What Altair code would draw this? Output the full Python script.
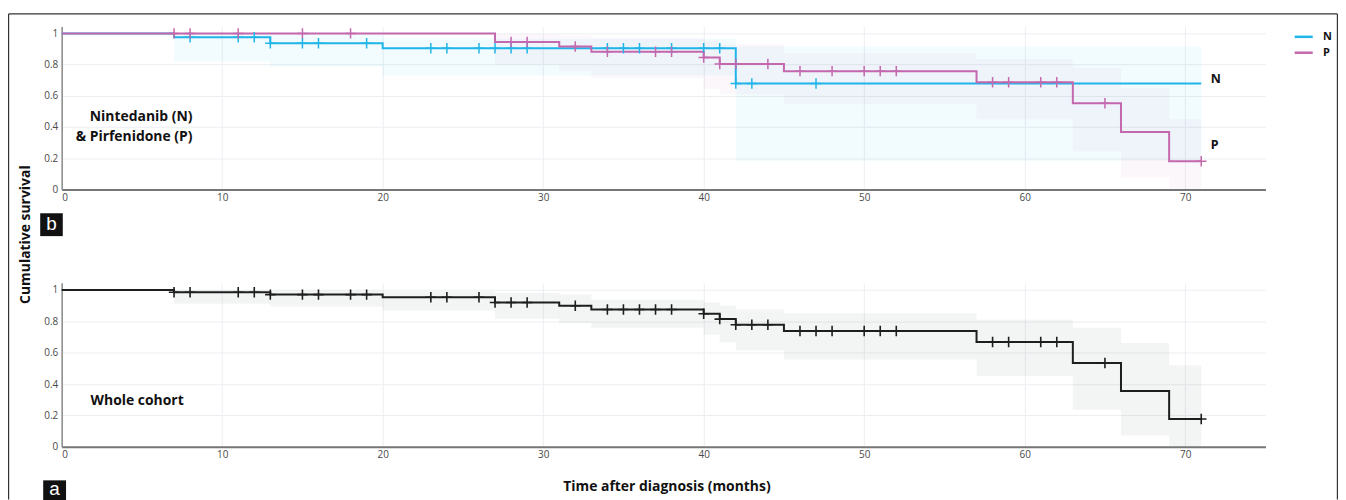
import altair as alt
import pandas as pd

# ---------------- data ----------------
X_TICKS = [0, 10, 20, 30, 40, 50, 60, 70]
Y_TICKS = [0, 0.2, 0.4, 0.6, 0.8, 1]
GROUPS = ["N", "P"]
GROUP_COLORS = ["#20b5e9", "#c468ae"]

# Nintedanib (N)
n_time = [0, 7, 13, 20, 42, 71]
n_surv = [1.0, 0.975, 0.937, 0.905, 0.679, 0.679]
n_censor = [8, 11, 12, 13, 15, 16, 19, 23, 24, 26, 27, 28, 29, 34, 35, 36, 38, 40, 41, 42, 43, 47]
n_ci_start = [7, 13, 20, 42]
n_ci_end = [13, 20, 42, 71]
n_ci_low = [0.82, 0.787, 0.73, 0.184]
n_ci_high = [0.997, 0.99, 0.966, 0.916]

# Pirfenidone (P)
p_time = [0, 27, 31, 33, 40, 41, 45, 57, 63, 66, 69, 71]
p_surv = [1.0, 0.945, 0.916, 0.882, 0.846, 0.804, 0.758, 0.687, 0.552, 0.368, 0.181, 0.181]
p_censor = [7, 8, 11, 15, 18, 28, 29, 32, 34, 37, 38, 40, 41, 42, 44, 46, 48, 50, 51, 52,
            58, 59, 61, 62, 65, 71]
p_ci_start = [27, 31, 33, 40, 41, 45, 57, 63, 66, 69]
p_ci_end = [31, 33, 40, 41, 45, 57, 63, 66, 69, 71]
p_ci_low = [0.80, 0.76, 0.712, 0.645, 0.61, 0.546, 0.45, 0.243, 0.074, 0.0]
p_ci_high = [0.995, 0.985, 0.97, 0.95, 0.93, 0.873, 0.835, 0.778, 0.65, 0.45]

# Whole cohort
w_time = [0, 7, 13, 20, 27, 31, 33, 40, 41, 42, 45, 57, 63, 66, 69, 71]
w_surv = [1.0, 0.985, 0.970, 0.953, 0.920, 0.899, 0.875, 0.848, 0.814, 0.778, 0.738,
          0.668, 0.534, 0.356, 0.177, 0.177]
w_censor = [7, 8, 11, 12, 13, 15, 16, 18, 19, 23, 24, 26, 27, 28, 29, 32, 34, 35, 36, 37, 38,
            40, 41, 42, 43, 44, 46, 47, 48, 50, 51, 52, 58, 59, 61, 62, 65, 71]
w_ci_start = [7, 13, 20, 27, 31, 33, 40, 41, 42, 45, 57, 63, 66, 69]
w_ci_end = [13, 20, 27, 31, 33, 40, 41, 42, 45, 57, 63, 66, 69, 71]
w_ci_low = [0.911, 0.894, 0.869, 0.816, 0.789, 0.759, 0.715, 0.666, 0.616, 0.557, 0.451,
            0.236, 0.072, 0.0]
w_ci_high = [0.998, 0.995, 0.99, 0.98, 0.97, 0.937, 0.92, 0.9, 0.875, 0.852, 0.81, 0.759,
             0.662, 0.519]

# annotation texts and their anchor points (data units)
top_note_text = ["Nintedanib (N)", "& Pirfenidone (P)"]
top_note_time = [8.15, 8.15]
top_note_surv = [0.465, 0.338]
end_label_text = ["N", "P"]
end_label_time = [71.6, 71.6]
end_label_surv = [0.706, 0.287]
bottom_note_text = ["Whole cohort"]
bottom_note_time = [1.8]
bottom_note_surv = [0.289]


def surv_at(times, surv, t):
    idx = max(i for i, tt in enumerate(times) if tt <= t)
    return surv[idx]


def line_rows(times, surv, group):
    return [{"time": t, "surv": s, "group": group} for t, s in zip(times, surv)]


def censor_rows(times, surv, cens, group):
    return [{"time": c, "surv": surv_at(times, surv, c), "group": group} for c in cens]


def band_rows(start, end, lo, hi, group):
    return [{"time": a, "time_end": b, "surv": l, "surv_hi": h, "group": group}
            for a, b, l, h in zip(start, end, lo, hi)]


top_lines = pd.DataFrame(line_rows(n_time, n_surv, "N") + line_rows(p_time, p_surv, "P"))
n_cens_df = pd.DataFrame(censor_rows(n_time, n_surv, n_censor, "N"))
p_cens_df = pd.DataFrame(censor_rows(p_time, p_surv, p_censor, "P"))
n_band_df = pd.DataFrame(band_rows(n_ci_start, n_ci_end, n_ci_low, n_ci_high, "N"))
p_band_df = pd.DataFrame(band_rows(p_ci_start, p_ci_end, p_ci_low, p_ci_high, "P"))

w_lines = pd.DataFrame(line_rows(w_time, w_surv, "All"))
w_cens = pd.DataFrame(censor_rows(w_time, w_surv, w_censor, "All"))
w_bands = pd.DataFrame(band_rows(w_ci_start, w_ci_end, w_ci_low, w_ci_high, "All"))

top_notes = pd.DataFrame({"time": top_note_time, "surv": top_note_surv, "label": top_note_text})
end_labels = pd.DataFrame({"time": end_label_time, "surv": end_label_surv,
                           "label": end_label_text})
bottom_notes = pd.DataFrame({"time": bottom_note_time, "surv": bottom_note_surv,
                             "label": bottom_note_text})

# ---------------- styling ----------------
FONT = "Open Sans"
W = 1211
H_TOP = 164
H_BOT = 165
CROSS = "M-1,0L1,0M0,-1L0,1"

x_scale = alt.Scale(domain=[0, 75], nice=False, zero=False)
y_scale = alt.Scale(domain=[0, 1.045], nice=False, zero=True)

x_axis_common = dict(values=X_TICKS, grid=True, ticks=False, domainColor="#767676",
                     domainWidth=2, labelPadding=3, labelFontSize=10, labelFont=FONT,
                     labelColor="#4a4a4a", gridColor="#eceef2", labelOverlap=False)
y_axis_common = dict(values=Y_TICKS, grid=True, ticks=False, domainColor="#8a8a8a",
                     domainWidth=1.5, labelPadding=4, labelFontSize=10, labelFont=FONT,
                     labelColor="#4a4a4a", gridColor="#eceef2", format="~g",
                     labelOverlap=False)

x_top = alt.X("time:Q", scale=x_scale, title=None, axis=alt.Axis(**x_axis_common))
y_top = alt.Y("surv:Q", scale=y_scale,
              axis=alt.Axis(title="Cumulative survival", titleX=-36.6, titleY=209,
                            titleAngle=270, titleAlign="center", titleBaseline="middle",
                            titleFont=FONT, titleFontSize=14, titleFontWeight="bold",
                            titleColor="#111", **y_axis_common))

x_bot = alt.X("time:Q", scale=x_scale,
              axis=alt.Axis(title="Time after diagnosis (months)", titleX=608.4, titleY=40,
                            titleAlign="center", titleBaseline="middle", titleFont=FONT,
                            titleFontSize=14, titleFontWeight="bold", titleColor="#111",
                            **x_axis_common))
y_bot = alt.Y("surv:Q", scale=y_scale, title=None, axis=alt.Axis(**y_axis_common))

grp_scale = alt.Scale(domain=GROUPS, range=GROUP_COLORS)

one = alt.Data(values=[{}])

# ---------------- top panel ----------------
t_band_n = alt.Chart(n_band_df).mark_rect(fill=GROUP_COLORS[0], fillOpacity=0.06,
                                          strokeWidth=0).encode(
    x=x_top, x2="time_end:Q", y=y_top, y2="surv_hi:Q")
t_band_p = alt.Chart(p_band_df).mark_rect(fill=GROUP_COLORS[1], fillOpacity=0.05,
                                          strokeWidth=0).encode(
    x=x_top, x2="time_end:Q", y=y_top, y2="surv_hi:Q")

t_line = alt.Chart(top_lines).mark_line(interpolate="step-after", strokeWidth=2).encode(
    x=x_top, y=y_top,
    color=alt.Color("group:N", scale=grp_scale,
                    legend=alt.Legend(title=None, orient="none", legendX=1239, legendY=0,
                                      symbolType="stroke", symbolStrokeWidth=2.5,
                                      symbolSize=330, labelFont=FONT, labelFontWeight="bold",
                                      labelFontSize=11, labelColor="#111", labelOffset=9,
                                      rowPadding=-2, padding=0)))

t_cens_n = alt.Chart(n_cens_df).mark_point(shape=CROSS, size=110, strokeWidth=1.5,
                                           filled=False, opacity=1,
                                           stroke=GROUP_COLORS[0]).encode(x=x_top, y=y_top)
t_cens_p = alt.Chart(p_cens_df).mark_point(shape=CROSS, size=110, strokeWidth=1.5,
                                           filled=False, opacity=1,
                                           stroke=GROUP_COLORS[1]).encode(x=x_top, y=y_top)

t_notes = alt.Chart(top_notes).mark_text(font=FONT, fontWeight="bold", fontSize=14,
                                         align="right", baseline="middle",
                                         color="#111").encode(x=x_top, y=y_top, text="label:N")
t_ends = alt.Chart(end_labels).mark_text(font=FONT, fontWeight="bold", fontSize=12.5,
                                         align="left", baseline="middle",
                                         color="#111").encode(x=x_top, y=y_top, text="label:N")

# decorative frame and panel tag
frame_col = "#333"
f_left = alt.Chart(one).mark_rule(color=frame_col, strokeWidth=1.2).encode(
    x=alt.value(-53.4), y=alt.value(-12.5), y2=alt.value(476))
f_top = alt.Chart(one).mark_rule(color=frame_col, strokeWidth=1.2).encode(
    x=alt.value(-53.4), x2=alt.value(1283.4), y=alt.value(-12.5))
f_right = alt.Chart(one).mark_rule(color=frame_col, strokeWidth=1.2).encode(
    x=alt.value(1283.4), y=alt.value(-12.5), y2=alt.value(476))
tag_b = alt.Chart(one).mark_rect(color="#111").encode(
    x=alt.value(-21.6), x2=alt.value(1.1), y=alt.value(188), y2=alt.value(211))
tag_b_txt = alt.Chart(one).mark_text(text="b", color="white", font="Liberation Sans",
                                     fontSize=19, baseline="middle", align="center").encode(
    x=alt.value(-10.3), y=alt.value(198.5))

top = alt.layer(t_band_n, t_band_p, t_line, t_cens_n, t_cens_p, t_notes, t_ends,
                f_left, f_top, f_right, tag_b, tag_b_txt).properties(width=W, height=H_TOP)

# ---------------- bottom panel ----------------
b_band = alt.Chart(w_bands).mark_rect(fill="#8c9198", fillOpacity=0.1, strokeWidth=0).encode(
    x=x_bot, x2="time_end:Q", y=y_bot, y2="surv_hi:Q")
b_line = alt.Chart(w_lines).mark_line(interpolate="step-after", strokeWidth=2,
                                      color="#1e1e1e").encode(x=x_bot, y=y_bot)
b_cens = alt.Chart(w_cens).mark_point(shape=CROSS, size=110, strokeWidth=1.6, filled=False,
                                      opacity=1, stroke="#1e1e1e").encode(x=x_bot, y=y_bot)
b_note = alt.Chart(bottom_notes).mark_text(font=FONT, fontWeight="bold", fontSize=14,
                                           align="left", baseline="middle",
                                           color="#111").encode(x=x_bot, y=y_bot,
                                                                text="label:N")
tag_a = alt.Chart(one).mark_rect(color="#111").encode(
    x=alt.value(-18.6), x2=alt.value(4.4), y=alt.value(198.7), y2=alt.value(222))
tag_a_txt = alt.Chart(one).mark_text(text="a", color="white", font="Liberation Sans",
                                     fontSize=19, baseline="middle", align="center").encode(
    x=alt.value(-7.1), y=alt.value(207))

bottom = alt.layer(b_band, b_line, b_cens, b_note, tag_a, tag_a_txt).properties(
    width=W, height=H_BOT)

chart = alt.vconcat(top, bottom, spacing=94, bounds="flush").properties(
    padding={"left": 0, "top": 3, "right": 0, "bottom": 0},
    background="white",
).configure_view(strokeWidth=0)

chart.save("out.html", embed_options={"renderer": "svg", "actions": False})
